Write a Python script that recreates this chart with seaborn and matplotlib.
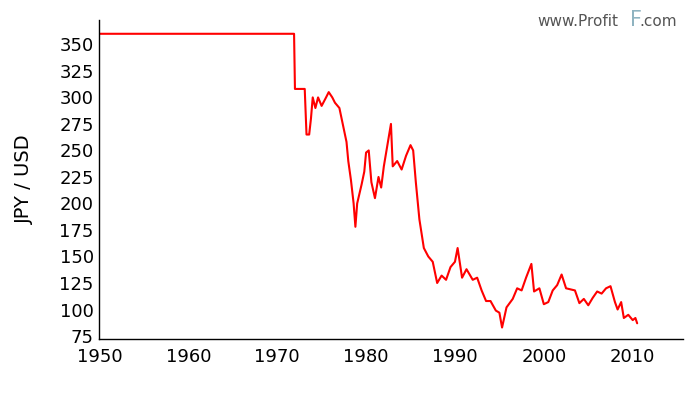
import matplotlib

matplotlib.use("Agg")

import matplotlib.pyplot as plt
import pandas as pd
import seaborn as sns

years = [1950, 1971.9, 1972.0, 1973.1, 1973.3, 1973.6, 1973.8, 1974.0, 1974.3, 1974.6,
         1975.0, 1975.5, 1975.8, 1976.2, 1976.5, 1977.0, 1977.5, 1977.8, 1978.0, 1978.3,
         1978.6, 1978.8, 1979.0, 1979.5, 1979.8, 1980.0, 1980.3, 1980.6, 1981.0, 1981.4,
         1981.7, 1982.0, 1982.4, 1982.8, 1983.0, 1983.5, 1984.0, 1984.5, 1985.0, 1985.3,
         1985.6, 1986.0, 1986.5, 1987.0, 1987.5, 1988.0, 1988.5, 1989.0, 1989.5, 1990.0,
         1990.3, 1990.8, 1991.3, 1992.0, 1992.5, 1993.0, 1993.5, 1994.0, 1994.6, 1995.0,
         1995.3, 1995.8, 1996.5, 1997.0, 1997.5, 1998.0, 1998.6, 1998.9, 1999.5, 2000.0,
         2000.5, 2001.0, 2001.5, 2002.0, 2002.5, 2003.0, 2003.5, 2004.0, 2004.5, 2005.0,
         2005.5, 2006.0, 2006.5, 2007.0, 2007.5, 2008.0, 2008.3, 2008.7, 2009.0, 2009.5,
         2010.0, 2010.3, 2010.5]
jpy_usd = [360, 360, 308, 308, 265, 265, 280, 300, 290, 300,
           292, 300, 305, 300, 295, 290, 270, 258, 240, 222,
           200, 178, 200, 218, 230, 248, 250, 220, 205, 225,
           215, 235, 255, 275, 235, 240, 232, 245, 255, 250,
           220, 185, 158, 150, 145, 125, 132, 128, 140, 145,
           158, 130, 138, 128, 130, 118, 108, 108, 99, 97,
           83, 102, 110, 120, 118, 130, 143, 117, 120, 105,
           107, 118, 123, 133, 120, 119, 118, 106, 110, 104,
           111, 117, 115, 120, 122, 107, 100, 107, 92, 95,
           90, 92, 87]

df = pd.DataFrame({"year": years, "rate": jpy_usd})

sns.set_style("white")
fig, ax = plt.subplots(figsize=(7, 4), dpi=100)
sns.lineplot(data=df, x="year", y="rate", color="#ff0000", linewidth=1.5, ax=ax)

ax.set_xlim(1950, 2015.6)
ax.set_ylim(72, 373)
ax.set_xticks([1950, 1960, 1970, 1980, 1990, 2000, 2010])
ax.set_yticks(list(range(75, 351, 25)))
ax.tick_params(axis="x", direction="in", length=8, color="#777777", labelsize=13, pad=6,
               labelcolor="black")
ax.tick_params(axis="y", length=0, labelsize=13, pad=4, labelcolor="black")
ax.set_xlabel("")
ax.set_ylabel("JPY / USD", fontsize=14, labelpad=18, color="black")
sns.despine(ax=ax)
for s in ("left", "bottom"):
    ax.spines[s].set_color("black")
    ax.spines[s].set_linewidth(1)

fig.text(0.768, 0.935, "www.Profit", fontsize=11, color="#555555")
fig.text(0.9, 0.935, "F", fontsize=15, color="#8fb3c0")
fig.text(0.914, 0.935, ".com", fontsize=11, color="#555555")

fig.subplots_adjust(left=0.142, right=0.975, top=0.95, bottom=0.152)
fig.savefig("out.png", dpi=100)
